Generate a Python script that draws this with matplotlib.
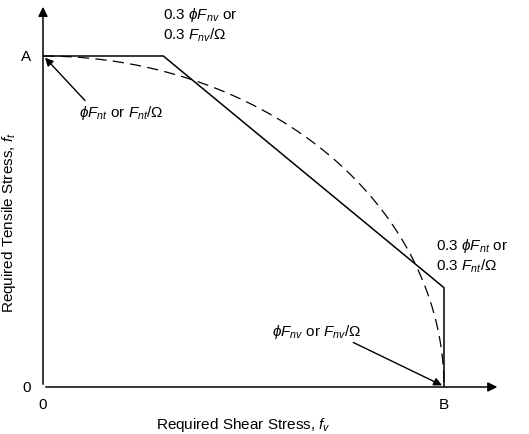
import numpy as np
import matplotlib.pyplot as plt

plt.rcParams['font.family'] = ['Liberation Sans', 'DejaVu Sans']
plt.rcParams['mathtext.fontset'] = 'custom'
plt.rcParams['mathtext.rm'] = 'Liberation Sans'
plt.rcParams['mathtext.it'] = 'Liberation Sans:italic'
plt.rcParams['mathtext.fallback'] = 'cm'

# trilinear interaction (normalized): points
tri_x = [0.0, 0.3, 1.0, 1.0]
tri_y = [1.0, 1.0, 0.3, 0.0]
# elliptical interaction
theta = np.linspace(0, np.pi/2, 200)
ell_x = np.sin(theta)
ell_y = np.cos(theta)

fig = plt.figure(figsize=(5.29, 4.35), dpi=100)
ax = fig.add_axes([43/529, 47/435, 1.15*401/529, 1.16*331/435])
ax.set_xlim(0, 1.15)
ax.set_ylim(0, 1.16)
ax.axis('off')

ax.plot(tri_x, tri_y, color='black', lw=1.1)
ax.plot(ell_x, ell_y, color='black', lw=0.9, ls=(0, (9, 5)))

ax.annotate('', xy=(1.14, 0), xytext=(0, 0),
            arrowprops=dict(arrowstyle='-|>', color='black', lw=1.1, mutation_scale=14), annotation_clip=False)
ax.annotate('', xy=(0, 1.157), xytext=(0, 0),
            arrowprops=dict(arrowstyle='-|>', color='black', lw=1.1, mutation_scale=14), annotation_clip=False)

fs = 11
ax.text(-0.03, 1.0, 'A', ha='right', va='center', fontsize=fs)
ax.text(-0.03, 0.0, '0', ha='right', va='center', fontsize=fs)
ax.text(0.0, -0.03, '0', ha='center', va='top', fontsize=fs)
ax.text(1.0, -0.03, 'B', ha='center', va='top', fontsize=fs)
ax.text(0.5, -0.085, r'Required Shear Stress, $f_v$', ha='center', va='top', fontsize=fs)
ax.text(-0.085, 0.5, r'Required Tensile Stress, $f_t$', ha='center', va='center', rotation=90, fontsize=fs)

ax.text(0.30, 1.04, '0.3 $\\phi F_{nv}$ or\n0.3 $F_{nv}/\\Omega$', ha='left', va='bottom', fontsize=fs, linespacing=1.2)
ax.text(0.98, 0.34, '0.3 $\\phi F_{nt}$ or\n0.3 $F_{nt}/\\Omega$', ha='left', va='bottom', fontsize=fs, linespacing=1.2)

ax.annotate('$\\phi F_{nt}$ or $F_{nt}/\\Omega$', xy=(0.005, 0.995), xytext=(0.09, 0.83),
            fontsize=fs, ha='left', va='center',
            arrowprops=dict(arrowstyle='-|>', color='black', lw=1, mutation_scale=12, shrinkA=0, shrinkB=0,
                            relpos=(0.1, 1.0)))
ax.annotate('$\\phi F_{nv}$ or $F_{nv}/\\Omega$', xy=(0.995, 0.005), xytext=(0.57, 0.17),
            fontsize=fs, ha='left', va='center',
            arrowprops=dict(arrowstyle='-|>', color='black', lw=1, mutation_scale=12, shrinkA=0, shrinkB=0,
                            relpos=(0.85, 0.0)))

fig.savefig('out.png', dpi=100)
